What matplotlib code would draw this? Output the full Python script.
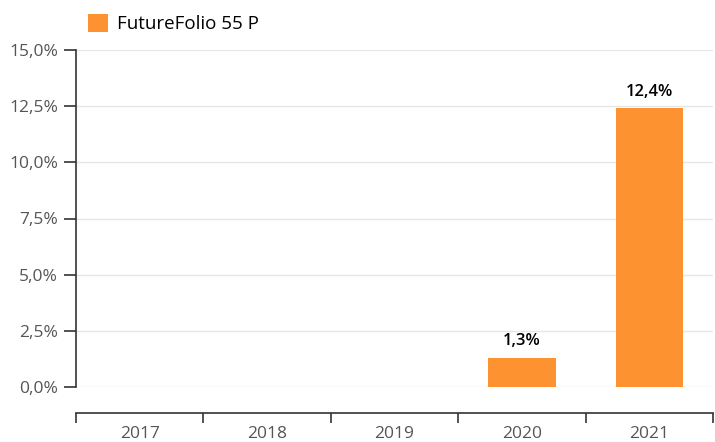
import matplotlib.pyplot as plt
from matplotlib.patches import Patch
from matplotlib.ticker import FuncFormatter, FixedLocator

plt.rcParams['font.family'] = ['Open Sans', 'DejaVu Sans']

# Data
years = ['2017', '2018', '2019', '2020', '2021']
returns = [None, None, None, 1.3, 12.4]
series_name = 'FutureFolio 55 P'
bar_color = '#fd9330'

fig = plt.figure(figsize=(7.15, 4.42), dpi=100)
ax = fig.add_axes([76 / 715, 1 - 387 / 442, 637 / 715, 337 / 442])

xs = list(range(len(years)))
for x, v in zip(xs, returns):
    if v is None:
        continue
    ax.bar(x, v, width=0.53, color=bar_color, zorder=3)
    ax.annotate(f"{v:.1f}".replace('.', ',') + '%', (x, v),
                xytext=(0, 6), textcoords='offset points',
                ha='center', va='bottom', fontsize=12, fontweight='semibold',
                color='black')

ax.set_xlim(-0.5, len(years) - 0.5)
ax.set_ylim(0, 15)
ax.set_yticks([0, 2.5, 5, 7.5, 10, 12.5, 15])
ax.yaxis.set_major_formatter(FuncFormatter(lambda v, p: f"{v:.1f}".replace('.', ',') + '%'))
ax.grid(axis='y', color='#e6e6e6', linewidth=1, zorder=0)
ax.tick_params(axis='y', length=9, width=1.2, color='#333333', labelcolor='#555555',
               labelsize=12.5, pad=4)

# x axis drawn as separate line below
ax.spines['top'].set_visible(False)
ax.spines['right'].set_visible(False)
ax.spines['left'].set_color('#333333')
ax.spines['left'].set_linewidth(1.2)
ax.spines['bottom'].set_position(('outward', 26 * 0.72))
ax.spines['bottom'].set_color('#333333')
ax.spines['bottom'].set_linewidth(1.2)
ax.set_xticks(xs)
ax.set_xticklabels(years)
ax.xaxis.set_minor_locator(FixedLocator([i - 0.5 for i in range(len(years) + 1)]))
ax.tick_params(axis='x', which='major', length=0, labelcolor='#555555', labelsize=12.5, pad=9)
ax.tick_params(axis='x', which='minor', length=7, width=1.2, color='#333333')

handles = [Patch(facecolor=bar_color, edgecolor='none', label=series_name)]
fig.legend(handles=handles, loc='upper left', bbox_to_anchor=(80 / 715, 1 - 6 / 442),
           frameon=False, fontsize=13.5, handlelength=1.1, handleheight=1.1,
           handletextpad=0.45, borderaxespad=0)

fig.savefig('out.png', dpi=100)
